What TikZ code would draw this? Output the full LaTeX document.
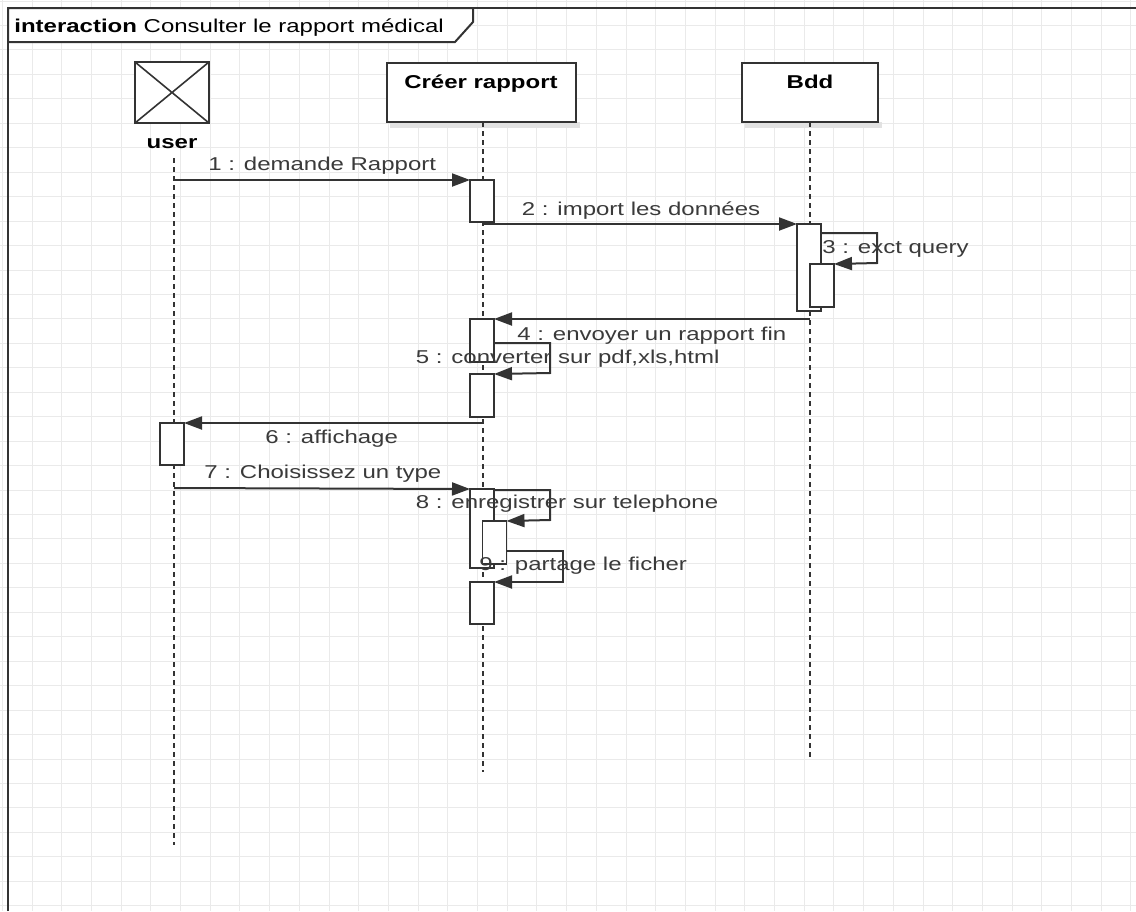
\documentclass[tikz,border=0pt]{standalone}
\usepackage{fontspec}
\setmainfont{Liberation Sans}[FakeStretch=1.29]
\usetikzlibrary{arrows.meta}
\definecolor{linec}{HTML}{333333}
\definecolor{txtc}{HTML}{3A3A3A}
\definecolor{gridc}{HTML}{EAEAEA}
\definecolor{shadc}{HTML}{E2E2E2}
\tikzset{
  act/.style={draw=linec, fill=white, line width=0.8pt, minimum width=12pt, inner sep=0pt, outer sep=0pt},
  headbox/.style={draw=linec, fill=white, line width=0.8pt, inner sep=0pt, outer sep=0pt},
  life/.style={draw=linec, line width=0.8pt, dash pattern=on 2.5pt off 2pt},
  msg/.style={draw=linec, line width=1pt, -{Triangle[length=9pt,width=6.5pt]}},
  lbl/.style={text=txtc, inner sep=0pt, anchor=base west},
  ttl/.style={text=black, inner sep=0pt, anchor=base, font=\fontsize{9.3}{11}\selectfont\bfseries},
}
\begin{document}
\begin{tikzpicture}[x=0.5pt,y=-0.5pt, font=\fontsize{9.3}{11}\selectfont]
\useasboundingbox (0,0) rectangle (1136,911);
\fill[white] (0,0) rectangle (1136,911);
% grid
\foreach \i in {0,...,38} \draw[gridc, line width=0.5pt] (2.3+29.7*\i,0) -- (2.3+29.7*\i,911);
\foreach \j in {0,...,37} \draw[gridc, line width=0.5pt] (0,1.05+24.45*\j) -- (1136,1.05+24.45*\j);
% frame
\draw[linec, line width=1pt] (8,911) -- (8,8) -- (1136,8);
\draw[linec, line width=1pt, fill=white] (8,8) -- (473,8) -- (473,22) -- (455,42) -- (8,42) -- cycle;
\node[inner sep=0pt, anchor=base west, text=black] (title) at (14,32) {\textbf{interaction} Consulter le rapport médical};
% shadows
\fill[shadc] (390,122) rectangle (580,128);
\fill[shadc] (745,122) rectangle (882,128);
% heads
\node[headbox, minimum width=37pt, minimum height=30.5pt] (user) at (172,92.5) {};
\draw[linec, line width=0.8pt] (user.north west) -- (user.south east) (user.north east) -- (user.south west);
\node[ttl] (userlbl) at (172,148) {user};
\node[headbox, minimum width=94.5pt, minimum height=29.5pt] (creer) at (481.5,92.5) {};
\node[ttl] (creerlbl) at (481,88) {Créer rapport};
\node[headbox, minimum width=68pt, minimum height=29.5pt] (bdd) at (810,92.5) {};
\node[ttl] (bddlbl) at (810,88) {Bdd};
% lifelines
\coordinate (uS) at (174,158); \coordinate (uE) at (174,845);
\coordinate (cS) at (483,122); \coordinate (cE) at (483,772);
\coordinate (bS) at (810,122); \coordinate (bE) at (810,760);
\draw[life] (uS) -- (uE);
\draw[life] (cS) -- (cE);
\draw[life] (bS) -- (bE);
% activations
\node[act, minimum height=21pt] (A1) at (482,201) {};
\node[act, minimum height=43.5pt] (B1) at (809,267.5) {};
\node[act, minimum height=21.5pt] (B2) at (822,285.5) {};
\node[act, minimum height=21.5pt] (C2) at (482,340.5) {};
\node[act, minimum height=21.5pt] (C3) at (482,395.5) {};
\node[act, minimum height=21pt] (U1) at (172,444) {};
\node[act, minimum height=39.5pt] (C4) at (482,528.5) {};
\node[act, minimum height=21.5pt] (C5) at (494.5,542.5) {};
\node[act, minimum height=21pt] (C6) at (482,603) {};
% message coordinates
\coordinate (m1s) at (174,180);
\coordinate (m2s) at (483,224);
\coordinate (m3s) at (821,233); \coordinate (m3a) at (877,233); \coordinate (m3b) at (877,263);
\coordinate (m4s) at (810,319);
\coordinate (m5s) at (494,343); \coordinate (m5a) at (550,343); \coordinate (m5b) at (550,373);
\coordinate (m6s) at (483,423);
\coordinate (m7s) at (174,488);
\coordinate (m8s) at (494,490); \coordinate (m8a) at (550,490); \coordinate (m8b) at (550,520);
\coordinate (m9s) at (506.5,551); \coordinate (m9a) at (563,551); \coordinate (m9b) at (563,582);
% messages
\draw[msg] (m1s) -- (A1.north west);
\draw[msg] (m2s) -- (B1.north west);
\draw[msg] (m3s) -- (m3a) -- (m3b) -- (B2.north east);
\draw[msg] (m4s) -- (C2.north east);
\draw[msg] (m5s) -- (m5a) -- (m5b) -- (C3.north east);
\draw[msg] (m6s) -- (U1.north east);
\draw[msg] (m7s) -- (C4.north west);
\draw[msg] (m8s) -- (m8a) -- (m8b) -- (C5.north east);
\draw[msg] (m9s) -- (m9a) -- (m9b) -- (C6.north east);
% labels
\node[lbl] (l1) at (208,170) {1 : demande Rapport};
\node[lbl] (l2) at (521.5,215) {2 : import les données};
\node[lbl] (l3) at (822,253) {3 : exct query};
\node[lbl] (l4) at (517,340) {4 : envoyer un rapport fin};
\node[lbl] (l5) at (415.5,363) {5 : converter sur pdf,xls,html};
\node[lbl] (l6) at (265,443) {6 : affichage};
\node[lbl] (l7) at (204,478) {7 : Choisissez un type};
\node[lbl] (l8) at (415.5,508) {8 : enregistrer sur telephone};
\node[lbl] (l9) at (479,570) {9 : partage le ficher};
\end{tikzpicture}
\end{document}
